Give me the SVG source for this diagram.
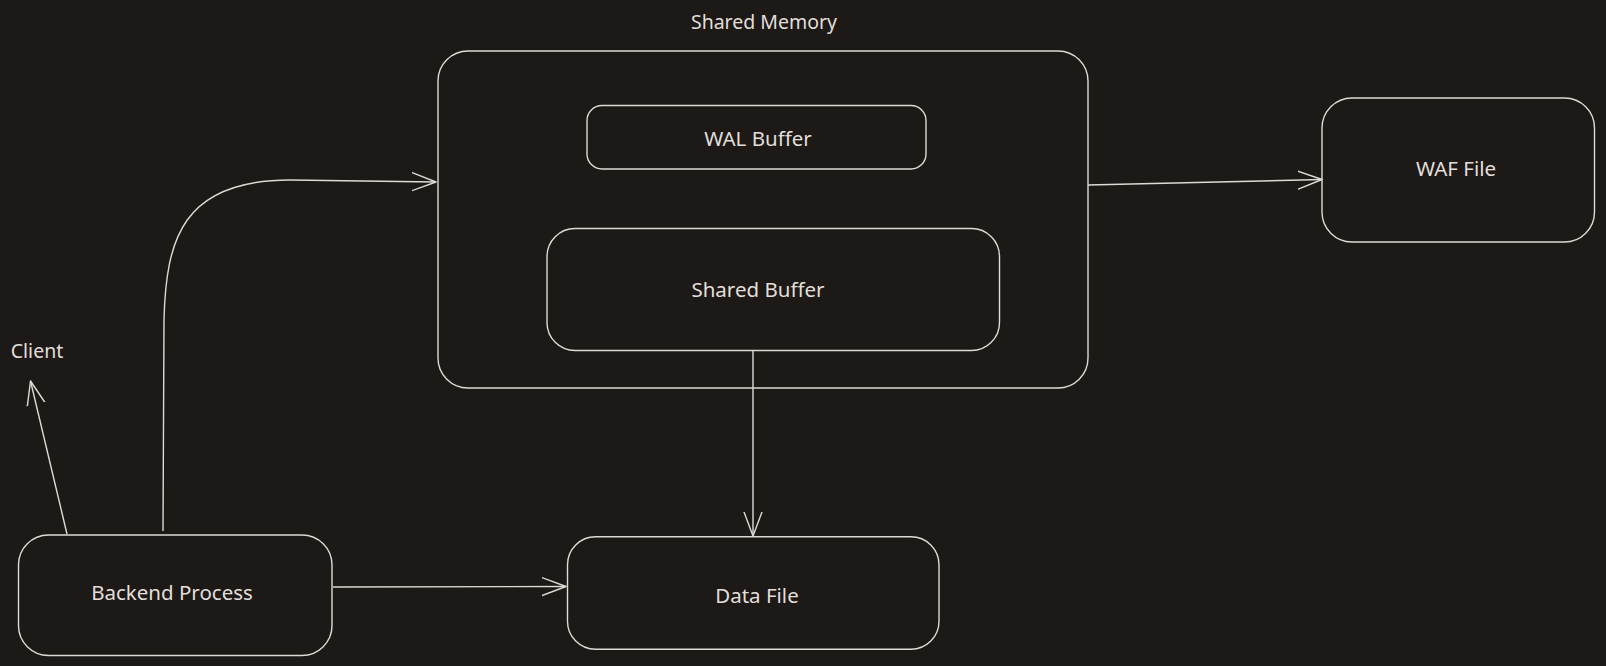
<svg xmlns="http://www.w3.org/2000/svg" width="1606" height="666" viewBox="0 0 1606 666">
<style>
.box{fill:none;stroke:#dedbd6;stroke-width:1.4}
.lbl{font-family:"Noto Sans","Liberation Sans",sans-serif;font-size:20.5px;fill:#e2dfda;text-anchor:middle;dominant-baseline:central}
.free{font-size:19.5px}
.edge{fill:none;stroke:#dedbd6;stroke-width:1.4;marker-end:url(#arr)}
</style>
<defs>
<marker id="arr" markerUnits="userSpaceOnUse" markerWidth="28" markerHeight="22" refX="24" refY="10" orient="auto">
<path d="M0,1 L24,10 L0,19" fill="none" stroke="#dedbd6" stroke-width="1.4" stroke-linecap="round" stroke-linejoin="round"/>
</marker>
</defs>
<rect width="1606" height="666" fill="#1c1917"/>
<g id="shared-memory">
<rect class="box" x="438" y="51" width="650" height="337" rx="30"/>
<text class="lbl free" x="764" y="21">Shared Memory</text>
</g>
<g id="wal-buffer">
<rect class="box" x="587" y="105.5" width="339" height="63.5" rx="15"/>
<text class="lbl" x="758" y="138">WAL Buffer</text>
</g>
<g id="shared-buffer">
<rect class="box" x="547" y="228.5" width="452.5" height="122" rx="28"/>
<text class="lbl" x="758" y="289">Shared Buffer</text>
</g>
<g id="waf-file">
<rect class="box" x="1322" y="98" width="272.5" height="144" rx="30"/>
<text class="lbl" x="1456" y="168">WAF File</text>
</g>
<g id="data-file">
<rect class="box" x="567.5" y="536.7" width="371.5" height="112.5" rx="28"/>
<text class="lbl" x="757" y="595">Data File</text>
</g>
<g id="backend-process">
<rect class="box" x="18.5" y="535" width="313.5" height="120.5" rx="30"/>
<text class="lbl" x="172" y="592">Backend Process</text>
</g>
<g id="client">
<text class="lbl free" x="37" y="350">Client</text>
</g>
<g id="connectors">
<path class="edge" d="M163,531 L164,320 C166,240 182,180 290,180 L436,182"/>
<path class="edge" d="M67,534 L30.5,381"/>
<path class="edge" d="M333,587 L566,586.5"/>
<path class="edge" d="M753,350.5 L753,536"/>
<path class="edge" d="M1088,185 L1322,179.5"/>
</g>
</svg>
